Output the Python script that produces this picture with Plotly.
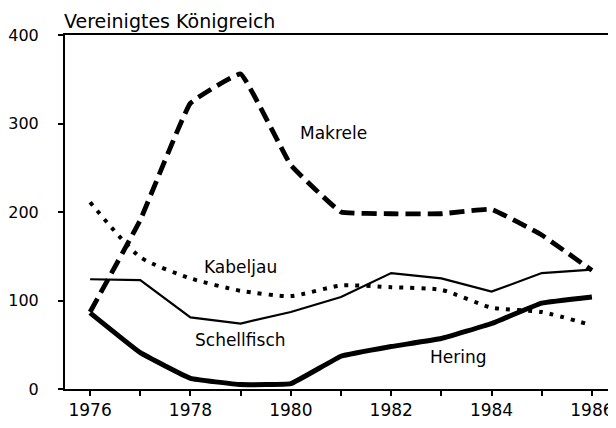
import plotly.graph_objects as go

years = list(range(1976, 1987))
makrele = [87, 191, 323, 356, 253, 200, 198, 198, 203, 174, 134]
kabeljau = [211, 149, 125, 111, 105, 117, 115, 112, 92, 87, 72]
schellfisch = [124, 123, 81, 74, 87, 104, 131, 125, 110, 131, 135]
hering = [86, 41, 12, 5, 6, 37, 48, 57, 74, 97, 104]

x_tickvals = list(range(1976, 1987))
x_ticktext = [str(y) if y % 2 == 0 else "" for y in x_tickvals]
y_tickvals = [0, 100, 200, 300, 400]

title_text = "Vereinigtes Königreich"
labels = [("Makrele", 1980.86, 289), ("Kabeljau", 1979.0, 138),
          ("Schellfisch", 1979.0, 55), ("Hering", 1983.35, 36)]

FONT = "DejaVu Sans, sans-serif"

fig = go.Figure()
fig.add_trace(go.Scatter(x=years, y=makrele, mode="lines", name="Makrele",
                         line=dict(color="black", width=4.8, dash="15px,7px", shape="spline", smoothing=0.25)))
fig.add_trace(go.Scatter(x=years, y=kabeljau, mode="lines", name="Kabeljau",
                         line=dict(color="black", width=4, dash="4px,7px", shape="spline", smoothing=0.6)))
fig.add_trace(go.Scatter(x=years, y=schellfisch, mode="lines", name="Schellfisch",
                         line=dict(color="black", width=2.2)))
fig.add_trace(go.Scatter(x=years, y=hering, mode="lines", name="Hering",
                         line=dict(color="black", width=5, shape="spline", smoothing=0.25)))

for text, xv, yv in labels:
    fig.add_annotation(x=xv, y=yv, text=text, showarrow=False, xref="x", yref="y",
                       font=dict(family=FONT, size=17, color="black"))

fig.add_annotation(x=-0.006, y=1, xref="paper", yref="paper", xanchor="left", yanchor="bottom",
                   text=title_text, showarrow=False, yshift=1,
                   font=dict(family=FONT, size=19, color="black"))

# page body has an 8px margin, so the figure is sized to fit the 616x428 window
fig.update_layout(
    width=608, height=420,
    margin=dict(l=57, r=2, t=27, b=39),
    paper_bgcolor="white", plot_bgcolor="white",
    showlegend=False,
    font=dict(family=FONT, size=16, color="black"),
    xaxis=dict(range=[1975.5, 1986.44], tickvals=x_tickvals, ticktext=x_ticktext,
               ticks="outside", ticklen=5, tickwidth=1.5, tickcolor="black",
               showline=True, linecolor="black", linewidth=2, mirror=True,
               showgrid=False, zeroline=False, tickfont=dict(size=17), automargin=False),
    yaxis=dict(range=[0, 400], tickvals=y_tickvals,
               ticks="outside", ticklen=5, tickwidth=1.5, tickcolor="black",
               showline=True, linecolor="black", linewidth=2, mirror=True,
               showgrid=False, zeroline=False, ticklabelstandoff=16, tickfont=dict(size=16),
               automargin=False),
)

fig.write_html("out.html")
